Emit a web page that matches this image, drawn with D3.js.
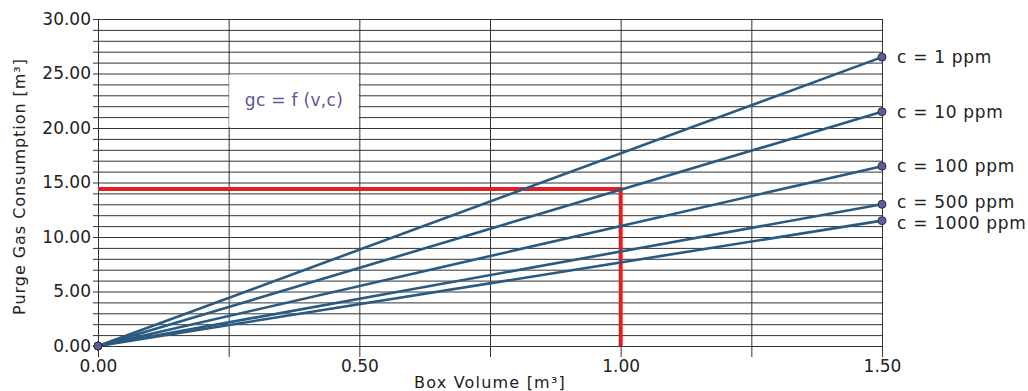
<!DOCTYPE html>
<html>
<head>
<meta charset="utf-8">
<script src="https://cdn.jsdelivr.net/npm/d3@7"></script>
<style>
  body { margin: 0; background: #fff; }
  svg { display: block; font-family: "DejaVu Sans", Verdana, sans-serif; }
</style>
</head>
<body>
<svg id="chart" width="1028" height="391"></svg>
<script>
// curves: purge gas consumption at box volume 0 and 1.5 m3
const seriesNames = ["c = 1 ppm", "c = 10 ppm", "c = 100 ppm", "c = 500 ppm", "c = 1000 ppm"];
const volumes = [0, 1.5];
const consumption = [
  [0, 26.5],
  [0, 21.5],
  [0, 16.5],
  [0, 13.0],
  [0, 11.5]
];
const xTicks = [0, 0.5, 1.0, 1.5];
const yTicks = [0, 5, 10, 15, 20, 25, 30];
const readVolume = 1.0;
const readConsumption = 14.4;

const svg = d3.select("#chart");
const margin = { left: 98, right: 146, top: 19, bottom: 45 };
const W = 1028, H = 391;

const x = d3.scaleLinear().domain([0, 1.5]).range([margin.left, W - margin.right]);
const y = d3.scaleLinear().domain([0, 30]).range([H - margin.bottom, margin.top]);

// horizontal grid, one line per unit
svg.append("g")
  .attr("transform", `translate(${margin.left},0)`)
  .call(d3.axisLeft(y).tickValues(d3.range(0, 31, 1)).tickSizeInner(-(x(1.5) - x(0))).tickSizeOuter(0).tickFormat(""))
  .call(g => g.select(".domain").remove())
  .call(g => g.selectAll(".tick line").attr("stroke", "#333").attr("x1", -5));

// vertical grid every 0.25
svg.append("g")
  .attr("transform", `translate(0,${y(0)})`)
  .call(d3.axisBottom(x).tickValues(d3.range(0, 1.51, 0.25)).tickSizeInner(-(y(0) - y(30))).tickSizeOuter(0).tickFormat(""))
  .call(g => g.select(".domain").remove())
  .call(g => g.selectAll(".tick line").attr("stroke", "#333").attr("y1", 11));

// white note box hiding the grid
svg.append("rect")
  .attr("x", x(0.25) + 0.5).attr("width", x(0.5) - x(0.25) - 1)
  .attr("y", y(25) + 1).attr("height", y(20) - y(25) - 2)
  .attr("fill", "#fff");
svg.append("text")
  .attr("x", (x(0.25) + x(0.5)) / 2).attr("y", 106)
  .attr("text-anchor", "middle")
  .attr("fill", "#5a579c")
  .attr("font-size", 17)
  .attr("letter-spacing", 0.3)
  .text("gc = f (v,c)");

// tick labels
svg.append("g")
  .attr("transform", `translate(${margin.left - 7},0)`)
  .call(d3.axisLeft(y).tickValues(yTicks).tickSize(0).tickPadding(0).tickFormat(d3.format(".2f")))
  .call(g => g.select(".domain").remove())
  .call(g => g.selectAll("text").attr("font-size", 17).attr("fill", "#222").attr("font-family", "DejaVu Sans, sans-serif"));

svg.append("g")
  .attr("transform", `translate(0,${y(0)})`)
  .call(d3.axisBottom(x).tickValues(xTicks).tickSize(0).tickPadding(14).tickFormat(d3.format(".2f")))
  .call(g => g.select(".domain").remove())
  .call(g => g.selectAll("text").attr("font-size", 17).attr("fill", "#222").attr("font-family", "DejaVu Sans, sans-serif"));

// axis titles
svg.append("text")
  .attr("transform", `translate(25,${(y(0) + y(30)) / 2 + 4}) rotate(-90)`)
  .attr("text-anchor", "middle")
  .attr("font-size", 16)
  .attr("letter-spacing", 0.95)
  .attr("fill", "#222")
  .text("Purge Gas Consumption [m³]");
svg.append("text")
  .attr("x", (x(0) + x(1.5)) / 2).attr("y", 388)
  .attr("text-anchor", "middle")
  .attr("font-size", 16)
  .attr("letter-spacing", 1.2)
  .attr("fill", "#222")
  .text("Box Volume [m³]");

// red reading lines
svg.append("path")
  .attr("d", d3.line()([[x(0), y(readConsumption)], [x(readVolume), y(readConsumption)], [x(readVolume), y(0)]]))
  .attr("fill", "none")
  .attr("stroke", "#e0201e")
  .attr("stroke-width", 4);

// series lines
const line = d3.line().x((d, i) => x(volumes[i])).y(d => y(d));
svg.append("g").selectAll("path")
  .data(consumption)
  .join("path")
  .attr("d", line)
  .attr("fill", "none")
  .attr("stroke", "#2a5a80")
  .attr("stroke-width", 2.6);

// markers
consumption.forEach(vals => {
  svg.append("g").selectAll("circle")
    .data(vals)
    .join("circle")
    .attr("cx", (d, i) => x(volumes[i]))
    .attr("cy", d => y(d))
    .attr("r", 4)
    .attr("fill", "#5e5c9e")
    .attr("stroke", "#2c2c44")
    .attr("stroke-width", 1);
});

// series labels, nudged apart where they would collide
const labelY = consumption.map(v => y(v[1]) + 6);
for (let i = 1; i < labelY.length; i++) {
  const gap = labelY[i] - labelY[i - 1];
  if (gap < 21) {
    const push = (21 - gap) / 2;
    labelY[i - 1] -= push;
    labelY[i] += push;
  }
}
svg.append("g").selectAll("text")
  .data(seriesNames)
  .join("text")
  .attr("x", x(1.5) + 15)
  .attr("y", (d, i) => labelY[i])
  .attr("font-size", 17)
  .attr("letter-spacing", 0.7)
  .attr("fill", "#222")
  .text(d => d);
</script>
</body>
</html>
